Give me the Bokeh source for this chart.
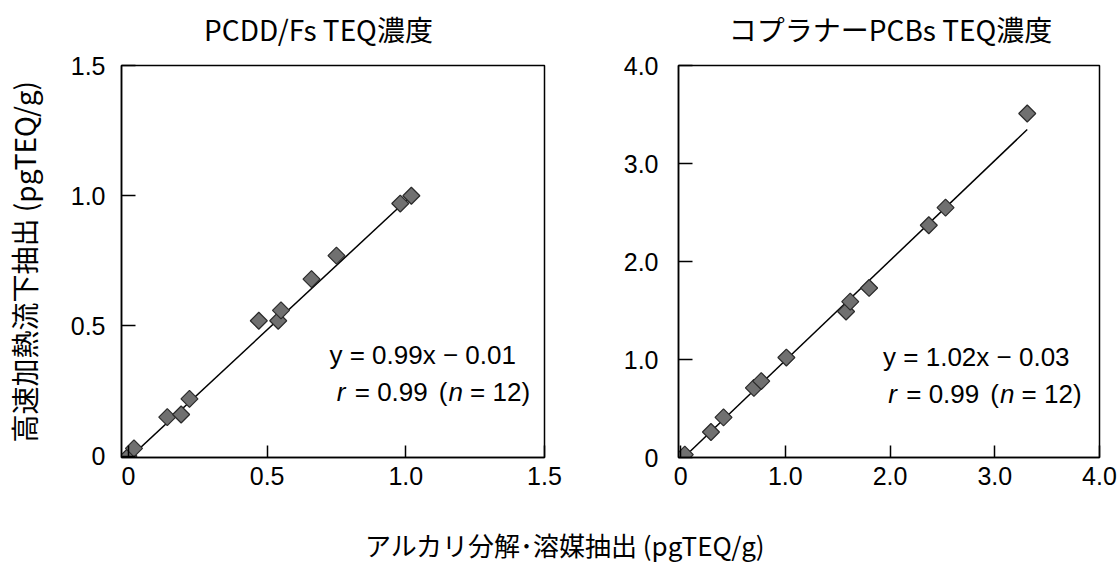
import math

from bokeh.embed import file_html
from bokeh.layouts import column, row
from bokeh.models import (ColumnDataSource, CustomJSTickFormatter, FixedTicker,
                          Label, Range1d)
from bokeh.plotting import figure
from bokeh.resources import INLINE

# PCDD/Fs TEQ concentrations (alkaline digestion vs. rapid heated-flow extraction)
pcdd_x = [0.0, 0.02, 0.14, 0.19, 0.22, 0.47, 0.54, 0.55, 0.66, 0.75, 0.98, 1.02]
pcdd_y = [0.0, 0.03, 0.15, 0.16, 0.22, 0.52, 0.52, 0.56, 0.68, 0.77, 0.97, 1.00]
pcdd_slope, pcdd_icpt = 0.99, -0.01
pcdd_r, pcdd_n = 0.99, 12

# Coplanar PCBs TEQ concentrations
pcb_x = [0.04, 0.29, 0.41, 0.70, 0.77, 1.01, 1.58, 1.62, 1.80, 2.37, 2.53, 3.31]
pcb_y = [0.03, 0.26, 0.41, 0.71, 0.78, 1.02, 1.49, 1.59, 1.73, 2.37, 2.55, 3.51]
pcb_slope, pcb_icpt = 1.02, -0.03
pcb_r, pcb_n = 0.99, 12

titles = ["PCDD/Fs TEQ濃度", "コプラナーPCBs TEQ濃度"]
pcdd_ticks = [0, 0.5, 1.0, 1.5]
pcb_ticks = [0, 1.0, 2.0, 3.0, 4.0]
y_label = "高速加熱流下抽出 (pgTEQ/g)"
x_label = "アルカリ分解･溶媒抽出 (pgTEQ/g)"

JP = "Noto Sans CJK JP"
NUM = "Liberation Sans"
NUM_SIZE = "25px"
EQ_SIZE = "26px"
EQ_PX = 26

fmt_code = "return tick == 0 ? '0' : tick.toFixed(1);"


def text_strip(height, labels):
    """Axis-free strip used for the panel titles and the shared caption."""
    s = figure(width=1118, height=height, x_range=Range1d(0, 1118),
               y_range=Range1d(0, height), x_axis_type=None, y_axis_type=None,
               output_backend="svg", toolbar_location=None, min_border=0)
    s.xgrid.visible = False
    s.ygrid.visible = False
    s.outline_line_color = None
    for x, y, txt, size in labels:
        s.add_layout(Label(x=x, y=y, text=txt, text_font=JP, text_font_size=size,
                           text_color="black", text_align="center",
                           text_baseline="middle"))
    return s


def panel(xs, ys, slope, icpt, r, n, ticks, xr, yr,
          border_left, border_right, frame_w, label_std, eq1, eq2):
    p = figure(frame_width=frame_w, frame_height=392,
               x_range=Range1d(*xr), y_range=Range1d(*yr),
               min_border_left=border_left, min_border_right=border_right,
               min_border_top=15, min_border_bottom=48,
               output_backend="svg", toolbar_location=None)

    p.xgrid.visible = False
    p.ygrid.visible = False
    p.outline_line_color = "black"
    p.outline_line_width = 1.5
    p.background_fill_color = "white"
    p.border_fill_color = "white"

    for ax in (p.xaxis[0], p.yaxis[0]):
        ax.ticker = FixedTicker(ticks=ticks)
        ax.formatter = CustomJSTickFormatter(code=fmt_code)
        ax.major_tick_out = 0
        ax.minor_tick_line_color = None
        ax.axis_line_color = "black"
        ax.axis_line_width = 1.5
        ax.major_tick_line_color = "black"
        ax.major_tick_line_width = 1.5
        ax.major_label_text_font = NUM
        ax.major_label_text_font_size = NUM_SIZE
        ax.major_label_text_color = "black"
    p.xaxis.major_tick_in = 12
    p.yaxis.major_tick_in = 14
    p.xaxis.major_label_standoff = 9
    p.yaxis.major_label_standoff = label_std

    # regression line over the data span
    x0, x1 = min(xs), max(xs)
    line_src = ColumnDataSource(dict(x=[x0, x1], y=[slope * x0 + icpt, slope * x1 + icpt]))
    p.line("x", "y", source=line_src, line_color="black", line_width=1.5)

    src = ColumnDataSource(dict(x=xs, y=ys))
    p.scatter("x", "y", source=src, marker="square", angle=math.pi / 4, size=12,
              fill_color="#707070", line_color="#2a2a2a", line_width=1.2)

    sign = "−" if icpt < 0 else "+"
    common = dict(text_font=NUM, text_font_size=EQ_SIZE, text_color="black",
                  text_baseline="middle", text_align="right")
    p.add_layout(Label(x=eq1[0], y=eq1[1],
                       text=f"y = {slope:.2f}x {sign} {abs(icpt):.2f}", **common))

    # second line: r = 0.99 (n = 12) with italic r and n
    em = EQ_PX
    sp = 0.278 * em
    w_tail = 2.307 * em            # "= 12)"
    w_n = 0.556 * em
    w_par = 0.333 * em
    w_mid = 2.808 * em             # "= 0.99"
    gap = 11
    off_n = -(w_tail + sp)
    off_par = off_n - w_n - 1
    off_mid = off_par - w_par - gap
    off_r = off_mid - w_mid - sp - 2
    pieces = [
        (f"= {n})", 0, "normal"),
        ("n", off_n, "italic"),
        ("(", off_par, "normal"),
        (f"= {r:.2f}", off_mid, "normal"),
        ("r", off_r, "italic"),
    ]
    for txt, off, style in pieces:
        p.add_layout(Label(x=eq2[0], y=eq2[1], text=txt, x_offset=off,
                           text_font_style=style, **common))
    return p


p1 = panel(pcdd_x, pcdd_y, pcdd_slope, pcdd_icpt, pcdd_r, pcdd_n,
           pcdd_ticks, (-0.025, 1.5), (-0.005, 1.5),
           120, 20, 423, 16, (1.397, 0.387), (1.448, 0.245))
p1.yaxis.axis_label = y_label
p1.yaxis.axis_label_text_font = JP
p1.yaxis.axis_label_text_font_size = "28px"
p1.yaxis.axis_label_text_font_style = "normal"
p1.yaxis.axis_label_text_color = "black"
p1.yaxis.axis_label_standoff = 24

p2 = panel(pcb_x, pcb_y, pcb_slope, pcb_icpt, pcb_r, pcb_n,
           pcb_ticks, (-0.02, 4.0), (0.0, 4.0),
           114, 20, 421, 20, (3.714, 1.03), (3.829, 0.653))

header = text_strip(50, [(318, 22, titles[0], "28px"), (890, 22, titles[1], "28px")])
footer = text_strip(58, [(565, 19, x_label, "26px")])

layout = column(header, row(p1, p2), footer)

with open("out.html", "w") as f:
    f.write(file_html(layout, INLINE))
